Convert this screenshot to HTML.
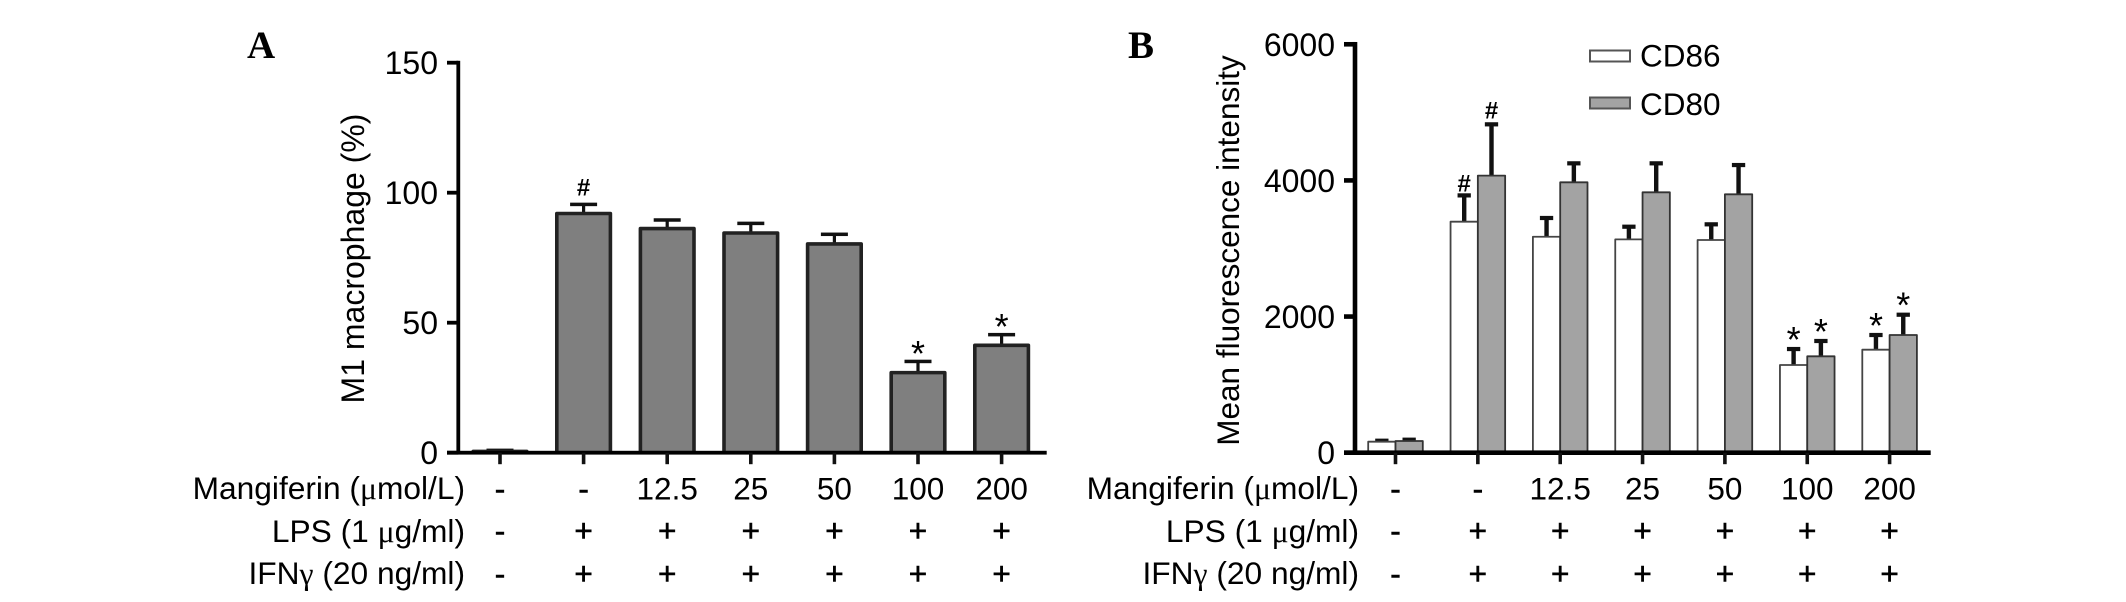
<!DOCTYPE html>
<html lang="en">
<head>
<meta charset="utf-8">
<title>Mangiferin M1 macrophage and CD86/CD80 charts</title>
<style>
html,body{margin:0;padding:0;background:#fff;width:2126px;height:602px;overflow:hidden}
svg{display:block}
text{font-family:"Liberation Sans",sans-serif;fill:#000}
.sym{font-family:"Liberation Serif",serif}
.panel{font-family:"Liberation Serif",serif;font-weight:bold;font-size:39px;fill:#000}
</style>
</head>
<body>
<svg id="chart" xmlns="http://www.w3.org/2000/svg" width="2126" height="602" viewBox="0 0 2126 602">
  <rect x="0" y="0" width="2126" height="602" fill="#fff"/>
  <text class="panel" x="247" y="58">A</text>
  <text class="panel" x="1128" y="58">B</text>
  <text font-size="32" text-anchor="middle" transform="translate(364 258.5) rotate(-90)">M1 macrophage (%)</text>
  <text font-size="31.5" text-anchor="middle" transform="translate(1239 250.5) rotate(-90)">Mean fluorescence intensity</text>
  <g font-size="31.7" text-anchor="end">
    <text x="465" y="499">Mangiferin (<tspan class="sym">μ</tspan>mol/L)</text>
    <text x="465" y="542">LPS (1 <tspan class="sym">μ</tspan>g/ml)</text>
    <text x="465" y="584">IFN<tspan class="sym">γ</tspan> (20 ng/ml)</text>
  </g>
  <g font-size="31.7" text-anchor="end">
    <text x="1359" y="499">Mangiferin (<tspan class="sym">μ</tspan>mol/L)</text>
    <text x="1359" y="542">LPS (1 <tspan class="sym">μ</tspan>g/ml)</text>
    <text x="1359" y="584">IFN<tspan class="sym">γ</tspan> (20 ng/ml)</text>
  </g>
  <g>
    <rect x="1590" y="50.5" width="40" height="11" fill="#fff" stroke="#555" stroke-width="2"/>
    <text x="1640" y="66.5" font-size="31.5">CD86</text>
    <rect x="1590" y="97.5" width="40" height="11" fill="#a3a3a3" stroke="#555" stroke-width="2"/>
    <text x="1640" y="115" font-size="31.5">CD80</text>
  </g>
</svg>
<script>
const doseLabels = ['-', '-', '12.5', '25', '50', '100', '200'];
const lpsLabels = ['-', '+', '+', '+', '+', '+', '+'];
const ifnLabels = ['-', '+', '+', '+', '+', '+', '+'];

const ticksA = [0, 50, 100, 150];
const m1Values = [0.5, 92, 86.2, 84.5, 80.3, 30.8, 41.3];
const m1Errors = [0.4, 3.5, 3.3, 3.7, 3.7, 4.3, 4.1];
const m1Marks = ['', '#', '', '', '', '*', '*'];

const ticksB = [0, 2000, 4000, 6000];
const cd86Values = [162, 3394, 3173, 3134, 3125, 1288, 1513];
const cd86Errors = [14, 386, 275, 186, 230, 235, 216];
const cd86Marks = ['', '#', '', '', '', '*', '*'];
const cd80Values = [172, 4070, 3972, 3825, 3796, 1416, 1729];
const cd80Errors = [19, 754, 279, 426, 430, 225, 298];
const cd80Marks = ['', '#', '', '', '', '*', '*'];

const svg = document.getElementById('chart');
const NS = 'http://www.w3.org/2000/svg';

function make(tag, props, text) {
  const el = document.createElementNS(NS, tag);
  for (const k in props) el.setAttribute(k, props[k]);
  if (text !== undefined) el.textContent = text;
  svg.appendChild(el);
  return el;
}

const yA = v => 452.7 - v * 2.6;
const xA = i => 500 + i * 83.6;
const yB = v => 452.7 - v * 0.06807;
const xB = i => 1395.5 + i * 82.35;
const rowBaselines = [499.5, 541.5, 584.5];

function rows(x, prefix) {
  [doseLabels, lpsLabels, ifnLabels].forEach((labels, r) => {
    labels.forEach((label, i) => {
      const t = make('text', {x: x(i), y: rowBaselines[r], 'font-size': 31.5, 'text-anchor': 'middle', stroke: '#000', 'stroke-width': label.length === 1 ? 0.6 : 0}, label);
      
      
    });
  });
}

function annotate(x, capY, mark, hashGap, starGap) {
  if (!mark) return;
  const size = mark === '#' ? 24 : 36;
  const drop = mark === '#' ? 8 : 20;
  const gap = mark === '#' ? hashGap : starGap;
  const t = make('text', {x: x, y: capY - gap + drop, 'font-size': size, 'text-anchor': 'middle', 'font-weight': mark === '#' ? 'bold' : 'normal'}, mark);
  
  
}

function bar(cx, width, value, err, y, fill, stroke, strokeW, capW, capH, stemW, name) {
  const top = y(value), cap = y(value + err);
  const stem = make('rect', {x: cx - stemW / 2, y: cap, width: stemW, height: top - cap, fill: '#111'});
  
  
  const capEl = make('rect', {x: cx - capW / 2, y: cap - capH / 2, width: capW, height: capH, fill: '#111'});
  
  
  const rect = make('rect', {x: cx - width / 2, y: top, width: width, height: y(0) - top, fill: fill, stroke: stroke, 'stroke-width': strokeW, 'stroke-linejoin': 'round'});
  
  
  return cap;
}

function axes(y, x, ticks, xLeft, xRight, tickLeft, labelRight, lineW, fontSize, prefix) {
  const yLine = make('rect', {x: xLeft - lineW / 2, y: y(ticks[ticks.length - 1]) - lineW / 2, width: lineW, height: y(0) - y(ticks[ticks.length - 1]) + lineW / 2, fill: '#000'});
  
  
  const xLine = make('rect', {x: tickLeft, y: y(0) - lineW / 2, width: xRight - tickLeft, height: lineW, fill: '#000'});
  
  
  ticks.forEach(v => {
    const tick = make('rect', {x: tickLeft, y: y(v) - lineW / 2, width: xLeft - tickLeft, height: lineW, fill: '#000'});
    
    
    const label = make('text', {x: labelRight, y: y(v) + 11.5, 'font-size': fontSize, 'text-anchor': 'end'}, String(v));
    
    
  });
  doseLabels.forEach((d, i) => {
    const tick = make('rect', {x: x(i) - 1.8, y: y(0), width: 3.6, height: 11.5, fill: '#111'});
    
    
  });
}

m1Values.forEach((v, i) => {
  const cap = bar(xA(i), 53.6, v, m1Errors[i], yA, '#7f7f7f', '#222', 3.6, 27, 3.5, 3.2, 'm1-bar-' + i);
  annotate(xA(i), cap, m1Marks[i], 17, 15.5);
});
axes(yA, xA, ticksA, 458.3, 1046.7, 447, 438, 3.8, 32, 'panel-a');
rows(xA, 'panel-a');

cd86Values.forEach((v, i) => {
  const cap = bar(xB(i) - 13.65, 27.3, v, cd86Errors[i], yB, '#fff', '#444', 1.8, 13.3, 4.2, 4.4, 'cd86-bar-' + i);
  annotate(xB(i) - 13.65, cap, cd86Marks[i], 12, 17);
});
cd80Values.forEach((v, i) => {
  const cap = bar(xB(i) + 13.65, 27.3, v, cd80Errors[i], yB, '#a3a3a3', '#333', 1.8, 13.3, 4.2, 4.4, 'cd80-bar-' + i);
  annotate(xB(i) + 13.65, cap, cd80Marks[i], 14, 17);
});
axes(yB, xB, ticksB, 1355, 1930.7, 1344, 1335, 4.6, 32, 'panel-b');
rows(xB, 'panel-b');
</script>
</body>
</html>
